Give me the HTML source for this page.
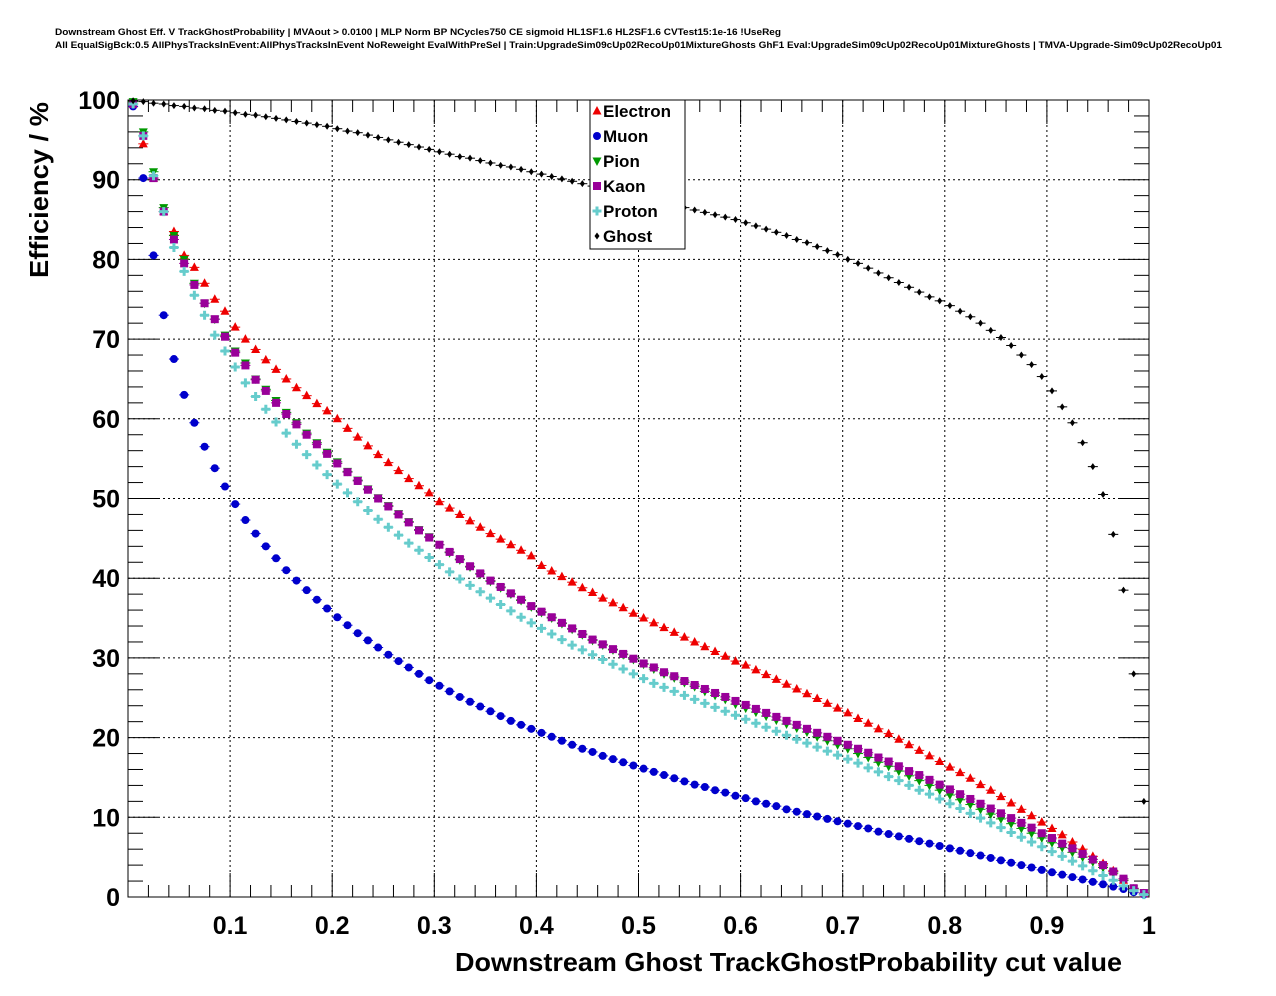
<!DOCTYPE html>
<html><head><meta charset="utf-8"><style>
body{margin:0;background:#fff;}
svg{display:block;font-family:"Liberation Sans",sans-serif;}
</style></head><body>
<svg id="chart" width="1276" height="996" xmlns="http://www.w3.org/2000/svg">
<rect width="1276" height="996" fill="#fff"/>
<text x="55" y="35" font-size="9.5" font-weight="bold" textLength="726" lengthAdjust="spacingAndGlyphs">Downstream Ghost Eff. V TrackGhostProbability | MVAout &gt; 0.0100 | MLP Norm BP NCycles750 CE sigmoid HL1SF1.6 HL2SF1.6 CVTest15:1e-16 !UseReg</text>
<text x="55" y="48" font-size="9.5" font-weight="bold" textLength="1167" lengthAdjust="spacingAndGlyphs">All EqualSigBck:0.5 AllPhysTracksInEvent:AllPhysTracksInEvent NoReweight EvalWithPreSel | Train:UpgradeSim09cUp02RecoUp01MixtureGhosts GhF1 Eval:UpgradeSim09cUp02RecoUp01MixtureGhosts | TMVA-Upgrade-Sim09cUp02RecoUp01</text>
<g id="grid"></g><g id="axes"></g><g id="marks"></g>
<text transform="translate(48,278) rotate(-90)" font-size="26" font-weight="bold" textLength="176" lengthAdjust="spacingAndGlyphs">Efficiency / %</text>
<text x="455" y="971" font-size="26" font-weight="bold" textLength="667" lengthAdjust="spacingAndGlyphs">Downstream Ghost TrackGhostProbability cut value</text>
<g id="legend"></g>
</svg>
<script>
const categories = Array.from({length:100},(_,i)=>0.005+0.01*i);
const electron=[99.5,94.5,90.2,86,83.5,80.5,79,77,75,73.5,71.5,70,68.7,67.4,66.2,65,63.9,62.9,61.9,61,60,58.8,57.7,56.6,55.5,54.5,53.5,52.5,51.6,50.7,49.6,48.8,48,47.2,46.4,45.6,44.9,44.2,43.5,42.8,41.6,40.9,40.2,39.5,38.8,38.2,37.5,36.9,36.3,35.6,35,34.4,33.8,33.2,32.6,32,31.4,30.8,30.2,29.6,29.1,28.5,27.9,27.3,26.7,26.1,25.5,24.9,24.3,23.7,23.1,22.4,21.8,21.1,20.5,19.8,19.1,18.4,17.7,17,16.3,15.6,14.9,14.1,13.4,12.6,11.8,11,10.2,9.4,8.6,7.8,6.9,6,5.1,4.2,3.3,2.1,1,0.4];
const muon=[99.2,90.2,80.5,73,67.5,63,59.5,56.5,53.8,51.5,49.3,47.3,45.6,44,42.5,41,39.7,38.5,37.3,36.2,35.1,34.1,33.1,32.2,31.3,30.4,29.6,28.8,28,27.2,26.5,25.8,25.1,24.5,23.9,23.3,22.7,22.1,21.6,21.1,20.6,20.1,19.6,19.1,18.6,18.2,17.7,17.3,16.9,16.5,16.1,15.7,15.3,14.9,14.5,14.1,13.8,13.4,13.1,12.7,12.4,12,11.7,11.4,11,10.7,10.4,10.1,9.8,9.5,9.2,8.9,8.6,8.2,7.9,7.6,7.3,7,6.7,6.4,6.1,5.8,5.5,5.2,4.9,4.6,4.3,4,3.7,3.4,3.1,2.8,2.5,2.2,1.9,1.6,1.3,1,0.6,0.3];
const pion=[99.8,96,91,86.5,83,80,77,74.5,72.5,70.5,68.5,67,65,63.7,62.3,60.8,59.5,58.2,57,55.8,54.6,53.4,52.3,51.2,50.1,49.1,48.1,47.1,46.1,45.2,44.2,43.2,42.3,41.4,40.5,39.6,38.8,38,37.2,36.4,35.7,35,34.3,33.6,32.9,32.2,31.6,31,30.4,29.8,29.2,28.6,28,27.5,26.9,26.4,25.8,25.3,24.8,24.2,23.7,23.2,22.7,22.2,21.7,21.2,20.7,20.1,19.6,19.1,18.6,18,17.5,16.9,16.4,15.8,15.2,14.6,14,13.4,12.8,12.2,11.6,11,10.4,9.8,9.2,8.6,8,7.4,6.8,6.2,5.6,5,4.4,3.7,3,2.1,1,0.5];
const kaon=[99.5,95.5,90.2,86,82.5,79.5,76.8,74.5,72.5,70.3,68.3,66.7,64.9,63.5,62,60.6,59.3,58,56.8,55.6,54.4,53.3,52.2,51.1,50,49,48,47,46,45.1,44.2,43.3,42.4,41.5,40.6,39.7,38.9,38.1,37.3,36.5,35.8,35.1,34.4,33.7,33,32.3,31.7,31.1,30.5,29.9,29.3,28.8,28.2,27.7,27.1,26.6,26.1,25.6,25.1,24.6,24.1,23.6,23.1,22.6,22.1,21.6,21.1,20.6,20.1,19.6,19.1,18.6,18.1,17.5,17,16.4,15.8,15.3,14.7,14.1,13.5,12.9,12.3,11.7,11.1,10.5,9.9,9.3,8.7,8,7.4,6.7,6.1,5.4,4.7,4,3.2,2.3,1.1,0.5];
const proton=[99.5,95.5,90.5,86,81.5,78.5,75.5,73,70.5,68.5,66.5,64.5,62.8,61.2,59.6,58.2,56.8,55.5,54.2,53,51.8,50.7,49.6,48.5,47.4,46.4,45.4,44.4,43.5,42.6,41.7,40.8,39.9,39.1,38.3,37.5,36.7,35.9,35.1,34.4,33.7,33,32.3,31.6,31,30.4,29.8,29.2,28.6,28,27.4,26.8,26.3,25.8,25.3,24.8,24.3,23.8,23.3,22.8,22.3,21.8,21.3,20.8,20.3,19.8,19.3,18.8,18.3,17.8,17.3,16.8,16.2,15.7,15.1,14.6,14,13.4,12.9,12.3,11.7,11.1,10.5,9.9,9.3,8.7,8.1,7.5,6.9,6.3,5.7,5.1,4.5,3.9,3.3,2.7,2.1,1.4,0.8,0.3];
const ghost=[99.9,99.8,99.6,99.5,99.3,99.2,99,98.9,98.7,98.6,98.4,98.2,98.1,97.9,97.7,97.5,97.3,97.1,96.9,96.7,96.4,96.1,95.9,95.6,95.3,95,94.7,94.4,94.1,93.8,93.5,93.2,92.9,92.7,92.4,92.1,91.8,91.6,91.3,91,90.7,90.4,90.1,89.8,89.5,89.2,88.9,88.6,88.3,88,87.7,87.4,87.1,86.8,86.5,86.2,85.9,85.6,85.3,85,84.6,84.2,83.8,83.4,83,82.5,82.1,81.6,81.1,80.6,80,79.5,78.9,78.3,77.7,77.1,76.5,75.9,75.3,74.8,74.2,73.5,72.8,72,71.1,70.2,69.2,68,66.8,65.3,63.5,61.5,59.5,57,54,50.5,45.5,38.5,28,12];
const xTicks=[0.1,0.2,0.3,0.4,0.5,0.6,0.7,0.8,0.9,1];
const xTickLabels=["0.1","0.2","0.3","0.4","0.5","0.6","0.7","0.8","0.9","1"];
const yTicks=[0,10,20,30,40,50,60,70,80,90,100];
const seriesNames=["Electron","Muon","Pion","Kaon","Proton","Ghost"];

const X0=128,X1=1149,Y0=897,Y1=100;
const sx=v=>X0+(X1-X0)*v;
const sy=v=>Y0-(Y0-Y1)*v/100;
const NS="http://www.w3.org/2000/svg";
function mk(tag,attrs,parent){const e=document.createElementNS(NS,tag);for(const k in attrs)e.setAttribute(k,attrs[k]);parent.appendChild(e);return e;}
const grid=document.getElementById('grid'),axes=document.getElementById('axes'),marks=document.getElementById('marks');

xTicks.forEach(t=>{if(t<1){const l=mk('line',{x1:sx(t),x2:sx(t),y1:Y1,y2:Y0,stroke:'#000','stroke-width':1,'stroke-dasharray':'2,3'},grid);

}});
yTicks.forEach(t=>{if(t>0&&t<100){const l=mk('line',{x1:X0,x2:X1,y1:sy(t),y2:sy(t),stroke:'#000','stroke-width':1,'stroke-dasharray':'2,3'},grid);

}});
const fr=mk('rect',{x:X0,y:Y1,width:X1-X0,height:Y0-Y1,fill:'none',stroke:'#000','stroke-width':1},axes);


for(let k=1;k<50;k++){const v=k*0.02;const major=(k%5===0);const L=major?24:12;
mk('line',{x1:sx(v),x2:sx(v),y1:Y0,y2:Y0-L,stroke:'#000'},axes);
mk('line',{x1:sx(v),x2:sx(v),y1:Y1,y2:Y1+L,stroke:'#000'},axes);}
xTicks.forEach((t,i)=>{const tx=mk('text',{x:sx(t),y:934,'text-anchor':'middle','font-size':25,'font-weight':'bold'},axes);tx.textContent=xTickLabels[i];

});
for(let k=1;k<50;k++){const v=k*2;const major=(k%5===0);const L=major?30:15;
mk('line',{x1:X0,x2:X0+L,y1:sy(v),y2:sy(v),stroke:'#000'},axes);
mk('line',{x1:X1,x2:X1-L,y1:sy(v),y2:sy(v),stroke:'#000'},axes);}
yTicks.forEach(t=>{const tx=mk('text',{x:120,y:sy(t)+9,'text-anchor':'end','font-size':25,'font-weight':'bold'},axes);tx.textContent=String(t);

});

const styles=[{c:'#ee0000',m:'tri'},{c:'#0000cc',m:'circ'},{c:'#009900',m:'tridown'},{c:'#990099',m:'sq'},{c:'#66cccc',m:'cross'},{c:'#000',m:'diam'}];
function marker(g,m,x,y,c){
 if(m==='tri')mk('polygon',{points:`${x},${y-5} ${x-4.5},${y+3.5} ${x+4.5},${y+3.5}`,fill:c},g);
 else if(m==='tridown')mk('polygon',{points:`${x},${y+5} ${x-4.5},${y-3.5} ${x+4.5},${y-3.5}`,fill:c},g);
 else if(m==='circ')mk('circle',{cx:x,cy:y,r:4,fill:c},g);
 else if(m==='sq')mk('rect',{x:x-4,y:y-4,width:8,height:8,fill:c},g);
 else if(m==='cross')mk('path',{d:`M${x-4.5},${y-1.5}h3v-3h3v3h3v3h-3v3h-3v-3h-3z`,fill:c},g);
 else mk('polygon',{points:`${x},${y-3.5} ${x-2.5},${y} ${x},${y+3.5} ${x+2.5},${y}`,fill:c},g);
}
const allSeries=[electron,muon,pion,kaon,proton,ghost];
allSeries.forEach((vals,si)=>{
 const g=mk('g',{},marks);
 
 
 vals.forEach((v,i)=>{const x=sx(categories[i]),y=sy(v);
  mk('line',{x1:x-5,x2:x+5,y1:y,y2:y,stroke:styles[si].c,'stroke-width':1},g);
  marker(g,styles[si].m,x,y,styles[si].c);});
});
const lg=document.getElementById('legend');
mk('rect',{x:590,y:100,width:95,height:149,fill:'#fff',stroke:'#000'},lg);
seriesNames.forEach((n,i)=>{const y=111+i*25;
 const e=mk('g',{},lg);
 
 
 marker(e,styles[i].m,597,y,styles[i].c);
 const t=mk('text',{x:603,y:y+6,'font-size':17,'font-weight':'bold'},e);t.textContent=n;});
</script>
</body></html>
